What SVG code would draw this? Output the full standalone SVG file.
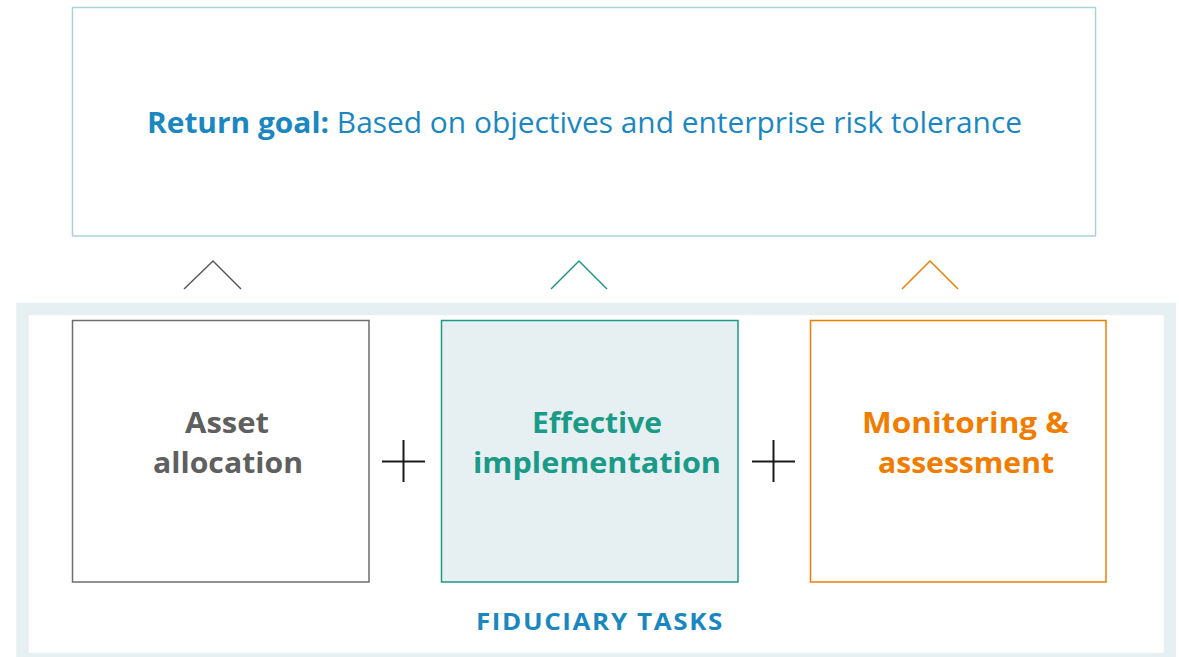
<svg xmlns="http://www.w3.org/2000/svg" width="1179" height="657" viewBox="0 0 1179 657">
<style>
text{font-family:"Open Sans","Liberation Sans",sans-serif;text-anchor:middle}
.lbl{font-size:29px;font-weight:bold}
.chev{fill:none;stroke-width:1.5}
.plus{stroke:#1a1a1a;stroke-width:2}
</style>
<rect width="1179" height="657" fill="#ffffff"/>
<g id="frame">
<rect x="22.5" y="309" width="1147.5" height="350" fill="none" stroke="#e6f0f2" stroke-width="12.5"/>
<text x="600" y="630" font-size="24" font-weight="bold" fill="#1a87c0" letter-spacing="1.5" textLength="248" lengthAdjust="spacingAndGlyphs">FIDUCIARY TASKS</text>
</g>
<g id="goal">
<rect x="72.5" y="7.5" width="1023" height="228.5" fill="#ffffff" stroke="#a8d4d8" stroke-width="1.5"/>
<text x="584.5" y="133" font-size="29" fill="#1a87c0" textLength="875" lengthAdjust="spacingAndGlyphs"><tspan font-weight="bold">Return goal:</tspan> Based on objectives and enterprise risk tolerance</text>
</g>
<g id="connectors">
<polyline class="chev" points="184,289 213,261 241,289" stroke="#5a5a5a"/>
<polyline class="chev" points="551,289 579,261 607,289" stroke="#1a9a87"/>
<polyline class="chev" points="902,289 930,261 958,289" stroke="#f07d00"/>
<path class="plus" d="M382,461.5H425M403.5,440V482"/>
<path class="plus" d="M752,461.5H795M773.5,440V482"/>
</g>
<g id="asset">
<rect x="72.5" y="320.5" width="296.5" height="261.5" fill="#ffffff" stroke="#6d6d6d" stroke-width="1.5"/>
<text class="lbl" fill="#5f5f5f" x="227" y="433" textLength="84" lengthAdjust="spacingAndGlyphs">Asset</text>
<text class="lbl" fill="#5f5f5f" x="228" y="473" textLength="150" lengthAdjust="spacingAndGlyphs">allocation</text>
</g>
<g id="implementation">
<rect x="441.5" y="320.5" width="296.5" height="261.5" fill="#e6f0f2" stroke="#1a9a87" stroke-width="1.5"/>
<text class="lbl" fill="#1a9a87" x="597" y="433" textLength="130" lengthAdjust="spacingAndGlyphs">Effective</text>
<text class="lbl" fill="#1a9a87" x="597" y="473" textLength="248" lengthAdjust="spacingAndGlyphs">implementation</text>
</g>
<g id="monitoring">
<rect x="810.5" y="320.5" width="295.5" height="261.5" fill="#ffffff" stroke="#f07d00" stroke-width="1.5"/>
<text class="lbl" fill="#f07d00" x="965.5" y="433" textLength="207" lengthAdjust="spacingAndGlyphs">Monitoring &amp;</text>
<text class="lbl" fill="#f07d00" x="966" y="473" textLength="176" lengthAdjust="spacingAndGlyphs">assessment</text>
</g>
</svg>
